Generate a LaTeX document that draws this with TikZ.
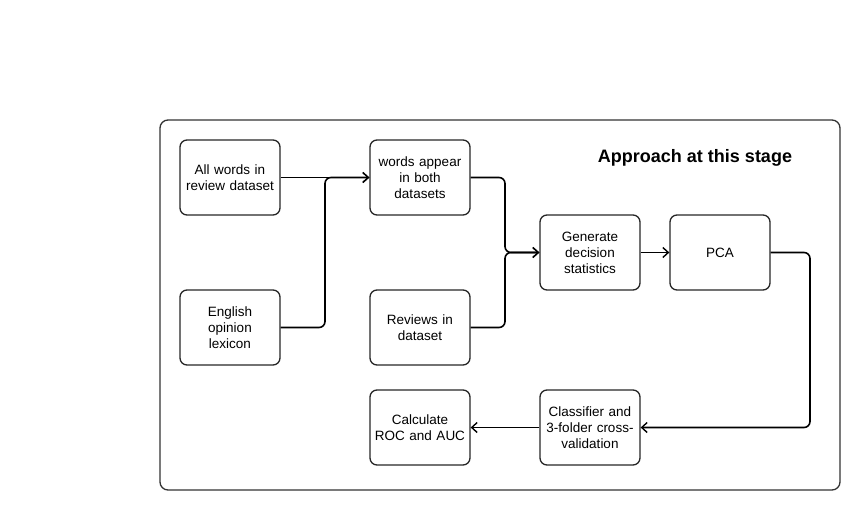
\documentclass[tikz,border=0pt]{standalone}
\usepackage{fontspec}
\setmainfont{Liberation Sans}
\usetikzlibrary{arrows.meta}
\begin{document}
\begin{tikzpicture}[x=1pt,y=-1pt,
  box/.style={draw=black!85,line width=1.3pt,rounded corners=7pt,minimum width=100pt,minimum height=75pt,inner sep=1pt,align=center,font=\fontsize{13.5}{16}\selectfont,text width=96pt},
  conn/.style={draw=black,line width=1.6pt,rounded corners=6pt,-{Straight Barb[length=5.5pt,width=10pt,line width=1.4pt]}}
]
\useasboundingbox (0,0) rectangle (860,509);
\draw[draw=black!80,line width=1.3pt,rounded corners=8pt] (160,120) rectangle (840,490);
\node[font=\bfseries\fontsize{18}{21}\selectfont] (title) at (695,158) {Approach at this stage};
\node[box] (all) at (230,177.5) {All words in\\review dataset};
\node[box] (eng) at (230,327.5) {English\\opinion\\ lexicon};
\node[box] (both) at (420,177.5) {words appear\\in both\\datasets};
\node[box] (rev) at (420,327.5) {Reviews in\\dataset};
\node[box] (gen) at (590,252.5) {Generate\\decision\\ statistics};
\node[box] (pca) at (720,252.5) {PCA};
\node[box] (cls) at (590,427.5) {Classifier and\\3-folder cross-\\validation};
\node[box] (roc) at (420,427.5) {Calculate\\ROC and AUC};
\draw[conn] (all.east) -- (both.west);
\draw[conn] (eng.east) -- (325,327.5) -- (325,177.5) -- (both.west);
\draw[conn] (both.east) -- (505,177.5) -- (505,252.5) -- (gen.west);
\draw[conn] (rev.east) -- (505,327.5) -- (505,252.5) -- (gen.west);
\draw[conn] (gen.east) -- (pca.west);
\draw[conn] (pca.east) -- (810,252.5) -- (810,427.5) -- (cls.east);
\draw[conn] (cls.west) -- (roc.east);
\end{tikzpicture}
\end{document}
